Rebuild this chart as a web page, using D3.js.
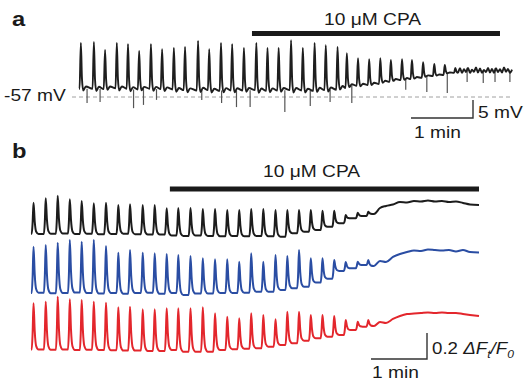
<!DOCTYPE html>
<html>
<head>
<meta charset="utf-8">
<script src="https://cdnjs.cloudflare.com/ajax/libs/d3/7.8.5/d3.min.js"></script>
<style>
  body { margin: 0; background: #fff; }
  text { font-family: "Liberation Sans", Arial, Helvetica, sans-serif; fill: #1a1a1a; }
</style>
</head>
<body>
<div id="fig"></div>
<script>
// ---------------- panel a : membrane potential (mV) vs time (min) ----------------
const aSpikeTime = [0.03, 0.24, 0.42, 0.61, 0.79, 0.97, 1.16, 1.34, 1.53, 1.71,
  1.92, 2.10, 2.29, 2.47, 2.66, 2.86, 3.04, 3.22, 3.42, 3.61,
  3.80, 3.98, 4.17, 4.32, 4.50, 4.68, 4.86, 5.03, 5.21, 5.37,
  5.55, 5.73, 5.90, 6.07];
const aSpikePeak = [-42.0, -41.7, -43.9, -42.0, -42.3, -44.2, -42.3, -43.7, -43.4, -43.1,
  -41.4, -43.7, -42.0, -42.3, -43.4, -42.0, -43.4, -43.4, -41.2, -43.4,
  -42.0, -42.6, -43.1, -44.8, -46.2, -46.5, -46.2, -46.7, -46.5, -46.7,
  -47.3, -47.8, -48.1, -48.9];
const aSpikeBase = [-54.7, -54.7, -54.8, -54.6, -54.7, -54.9, -54.7, -54.8, -54.9, -55.1,
  -55.2, -55.1, -55.3, -55.2, -55.2, -55.1, -55.3, -55.2, -55.1, -55.2,
  -55.3, -55.1, -55.0, -54.5, -53.9, -53.7, -53.4, -52.8, -52.3, -52.0,
  -51.7, -51.2, -50.9, -50.3];
// downward deflections
const aDipTime = [0.13, 0.34, 0.88, 1.04, 1.25, 1.98, 2.30, 2.54, 2.76, 3.32,
  3.73, 4.05, 4.40, 5.27, 5.61, 5.94, 6.26, 6.52, 6.71, 6.95];
const aDipLevel = [-58.7, -58.4, -60.1, -59.2, -57.8, -57.8, -58.7, -59.8, -59.8, -61.2,
  -59.5, -58.4, -58.7, -55.0, -55.6, -55.9, -52.8, -53.1, -52.8, -52.8];
// noisy plateau after spiking stops
const aTailTime = [6.113, 6.145, 6.177, 6.210, 6.242, 6.274, 6.306, 6.339, 6.371, 6.403,
  6.435, 6.468, 6.500, 6.532, 6.565, 6.597, 6.629, 6.661, 6.694, 6.726,
  6.758, 6.790, 6.823, 6.855, 6.887, 6.919, 6.952, 6.984];
const aTailLevel = [-50.2, -49.0, -50.3, -49.3, -50.1, -48.9, -50.3, -49.4, -50.0, -48.8,
  -50.2, -49.1, -50.3, -49.5, -50.1, -48.9, -50.2, -49.2, -50.3, -49.0,
  -50.1, -49.3, -50.2, -48.8, -50.0, -49.2, -50.3, -49.4];
const aRest = -57;
const aCpa = [2.79, 6.79];

// ---------------- panel b : dF/F0 of three cells vs time (min) ----------------
const bSpikeTime = [0.045, 0.263, 0.477, 0.693, 0.905, 1.121, 1.339, 1.559, 1.768, 1.995,
  2.209, 2.423, 2.630, 2.848, 3.068, 3.286, 3.504, 3.718, 3.932, 4.148,
  4.366, 4.577, 4.786, 4.996, 5.205, 5.414, 5.620, 5.834, 6.023];
const bTailTime = [6.125, 6.232, 6.339, 6.464, 6.589, 6.714, 6.839, 6.964,
  7.089, 7.214, 7.339, 7.464, 7.589, 7.714, 7.839, 8.0];

const blackPeak = [0.233, 0.267, 0.287, 0.259, 0.246, 0.228, 0.233, 0.215, 0.221, 0.215,
  0.215, 0.190, 0.192, 0.192, 0.185, 0.185, 0.177, 0.177, 0.185, 0.185,
  0.177, 0.177, 0.177, 0.177, 0.172, 0.172, 0.138, 0.156, 0.164];
const blackBase = [-0.005, -0.008, -0.005, -0.004, -0.008, -0.006, -0.010, -0.008, -0.006, -0.010,
  -0.012, -0.012, -0.020, -0.023, -0.020, -0.023, -0.025, -0.023, -0.025, -0.023,
  -0.025, -0.028, -0.002, 0.010, 0.023, 0.048, 0.075, 0.113, 0.131];
const blackTail = [0.146, 0.192, 0.208, 0.219, 0.238, 0.235, 0.246, 0.242,
  0.250, 0.242, 0.246, 0.238, 0.242, 0.231, 0.219, 0.215];

const bluePeak = [0.356, 0.369, 0.387, 0.408, 0.395, 0.408, 0.362, 0.310, 0.331, 0.310,
  0.305, 0.300, 0.292, 0.285, 0.267, 0.259, 0.259, 0.241, 0.305, 0.241,
  0.292, 0.285, 0.331, 0.267, 0.267, 0.254, 0.238, 0.241, 0.254];
const blueBase = [0, 0.002, -0.002, 0, 0.003, 0, -0.003, 0, -0.005, 0,
  0.002, -0.006, 0, -0.015, -0.004, -0.004, 0, 0, 0.002, 0.010,
  0.010, 0.023, 0.036, 0.048, 0.080, 0.110, 0.170, 0.190, 0.215];
const blueTail = [0.208, 0.246, 0.238, 0.277, 0.300, 0.315, 0.327, 0.323,
  0.335, 0.331, 0.327, 0.331, 0.319, 0.331, 0.315, 0.312];

const redPeak = [0.352, 0.364, 0.402, 0.382, 0.377, 0.364, 0.356, 0.321, 0.325, 0.305,
  0.305, 0.313, 0.313, 0.313, 0.321, 0.275, 0.248, 0.236, 0.275, 0.262,
  0.228, 0.287, 0.287, 0.262, 0.262, 0.254, 0.223, 0.210, 0.223];
const redBase = [-0.004, -0.004, -0.006, -0.004, -0.008, -0.006, -0.008, -0.010, -0.012, -0.012,
  -0.015, -0.015, -0.008, -0.021, -0.021, -0.021, -0.008, -0.002, 0.002, 0.005,
  0.018, 0.031, 0.044, 0.064, 0.082, 0.095, 0.108, 0.146, 0.172];
const redTail = [0.177, 0.208, 0.200, 0.231, 0.254, 0.269, 0.273, 0.277,
  0.281, 0.277, 0.281, 0.277, 0.277, 0.269, 0.262, 0.254];
const bCpa = [2.48, 8.0];

const cells = [
  { peak: blackPeak, base: blackBase, tail: blackTail, color: "#1c1c1c", shift: 0 },
  { peak: bluePeak, base: blueBase, tail: blueTail, color: "#2a4da3", shift: 60 },
  { peak: redPeak, base: redBase, tail: redTail, color: "#e3262c", shift: 116 }
];

// ---------------- layout ----------------
const W = 525, H = 383;
const svg = d3.select("#fig").append("svg").attr("width", W).attr("height", H);

const xA = d3.scaleLinear().domain([0, 7]).range([79, 513]);
const yA = d3.scaleLinear().domain([-57, -52]).range([97, 79]);
const xB = d3.scaleLinear().domain([0, 8]).range([31, 479]);
const yB = d3.scaleLinear().domain([0, 0.2]).range([233, 207]);

// spike template: [offset in px, fraction of spike height]
const aShape = [[-1.3, 0], [0, 1], [1.1, 0.22], [2.4, -0.04], [5, 0.05]];
const bShape = [[-1.8, 0], [-0.9, 0.35], [0, 1], [1.2, 0.4], [2.6, 0.08], [5, 0.0]];

function tracePoints(times, peaks, bases, tailT, tailV, shape, pxPerMin) {
  const pts = [[0, bases[0]]];
  times.forEach((t, i) => {
    const last = i === times.length - 1;
    const nextBase = last ? tailV[0] : bases[i + 1];
    const limit = last ? tailT[0] : times[i + 1] + shape[0][0] / pxPerMin;
    shape.forEach(([dx, f]) => {
      const tt = t + dx / pxPerMin;
      if (tt >= limit) return;
      const b = dx <= 0 ? bases[i] : nextBase;
      pts.push([tt, b + f * (peaks[i] - b)]);
    });
  });
  tailT.forEach((t, i) => pts.push([t, tailV[i]]));
  return pts;
}

function label(g, x, y, str, size, weight) {
  return g.append("text")
    .attr("transform", `translate(${x},${y}) scale(1.13,1)`)
    .attr("font-size", size)
    .attr("font-weight", weight || "normal")
    .text(str);
}

// ---------------- panel a ----------------
const gA = svg.append("g");
label(gA, 12, 26, "a", 21, "bold");

gA.append("rect")
  .attr("x", xA(aCpa[0])).attr("y", 31)
  .attr("width", xA(aCpa[1]) - xA(aCpa[0])).attr("height", 5)
  .attr("fill", "#1a1a1a");
label(gA, 324, 25, "10 \u03BCM CPA", 17);

gA.append("line")
  .attr("x1", 72).attr("x2", xA(7))
  .attr("y1", yA(aRest)).attr("y2", yA(aRest))
  .attr("stroke", "#a0a0a0").attr("stroke-width", 1)
  .attr("stroke-dasharray", "4,3");
label(gA, 4, 101, "-57 mV", 17);

const aPx = xA(1) - xA(0);
const aPts = tracePoints(aSpikeTime, aSpikePeak, aSpikeBase, aTailTime, aTailLevel, aShape, aPx);

// dips drawn as thin down strokes from the local baseline
gA.selectAll(".dip")
  .data(aDipTime.map((t, i) => {
    const k = d3.bisectRight(aSpikeTime, t);
    const top = k < aSpikeTime.length ? aSpikeBase[k] : aTailLevel[Math.min(d3.bisectRight(aTailTime, t), aTailLevel.length - 1)];
    return { t, top, v: aDipLevel[i] };
  }))
  .enter().append("line")
  .attr("class", "dip")
  .attr("x1", d => xA(d.t)).attr("x2", d => xA(d.t))
  .attr("y1", d => yA(d.top)).attr("y2", d => yA(d.v))
  .attr("stroke", "#555").attr("stroke-width", 1.2);

const lineA = d3.line().x(d => xA(d[0])).y(d => yA(d[1])).curve(d3.curveMonotoneX);
gA.append("path")
  .attr("d", lineA(aPts))
  .attr("fill", "none").attr("stroke", "#1e1e1e")
  .attr("stroke-width", 1.9).attr("stroke-linejoin", "round");

// scale bar a: 1 min, 5 mV
const sbA = { x: 473, y: 118 };
gA.append("path")
  .attr("d", `M${sbA.x - aPx},${sbA.y}H${sbA.x}V${sbA.y - (yA(-57) - yA(-52))}`)
  .attr("fill", "none").attr("stroke", "#333").attr("stroke-width", 1.4);
label(gA, 478, 118, "5 mV", 17);
label(gA, 414, 138, "1 min", 17);

// ---------------- panel b ----------------
const gB = svg.append("g");
label(gB, 12, 158, "b", 21, "bold");

gB.append("rect")
  .attr("x", xB(bCpa[0])).attr("y", 186.5)
  .attr("width", xB(bCpa[1]) - xB(bCpa[0])).attr("height", 5)
  .attr("fill", "#1a1a1a");
label(gB, 263, 177, "10 \u03BCM CPA", 17);

const bPx = xB(1) - xB(0);
const lineB = d3.line().x(d => xB(d[0])).y(d => yB(d[1])).curve(d3.curveMonotoneX);

gB.selectAll(".cell")
  .data(cells)
  .enter().append("path")
  .attr("class", "cell")
  .attr("transform", d => `translate(0,${d.shift})`)
  .attr("d", d => lineB(tracePoints(bSpikeTime, d.peak, d.base, bTailTime, d.tail, bShape, bPx)))
  .attr("fill", "none")
  .attr("stroke", d => d.color)
  .attr("stroke-width", 2)
  .attr("stroke-linejoin", "round");

// scale bar b: 1 min, 0.2 dF/F0
const sbB = { x: 427, y: 359 };
gB.append("path")
  .attr("d", `M${sbB.x - bPx},${sbB.y}H${sbB.x}V${sbB.y - (yB(0) - yB(0.2))}`)
  .attr("fill", "none").attr("stroke", "#333").attr("stroke-width", 1.4);
label(gB, 372, 378, "1 min", 17);

const dff = gB.append("text")
  .attr("transform", "translate(432,354) scale(1.1,1)")
  .attr("font-size", 17);
dff.append("tspan").text("0.2 ");
dff.append("tspan").attr("font-style", "italic").text("\u0394F");
dff.append("tspan").attr("font-style", "italic").attr("font-size", 11).attr("dy", 4).text("t");
dff.append("tspan").attr("font-style", "italic").attr("dy", -4).text("/F");
dff.append("tspan").attr("font-style", "italic").attr("font-size", 11).attr("dy", 4).text("0");
</script>
</body>
</html>
